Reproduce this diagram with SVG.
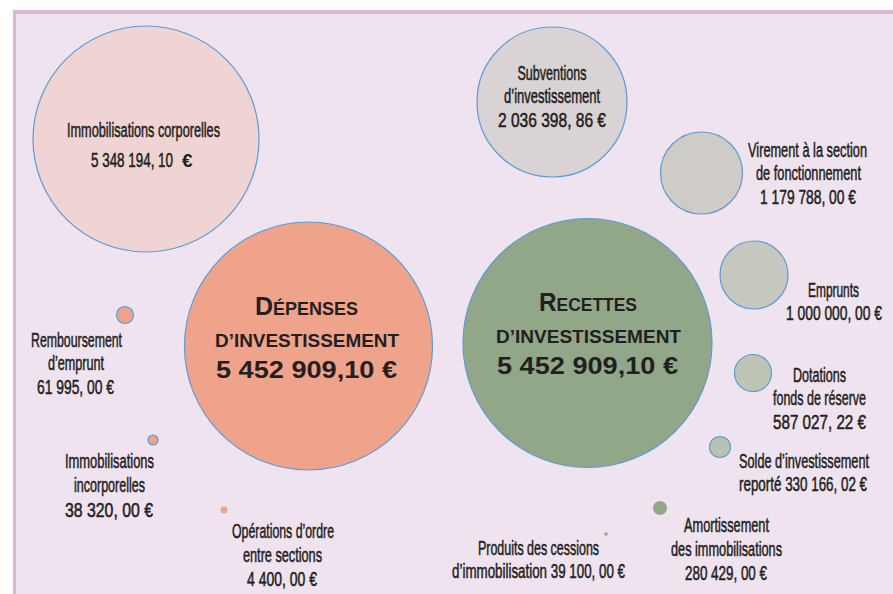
<svg xmlns="http://www.w3.org/2000/svg" width="893" height="594" viewBox="0 0 893 594">
<defs>
<style>
.bub{stroke:#5B9BD5;stroke-width:1.2}
.lab{font-family:"Liberation Sans Narrow","Liberation Sans",Arial,sans-serif;font-size:21px;fill:#231F20;stroke:#231F20;stroke-width:0.55;text-anchor:middle}
.big{font-family:"Liberation Sans",Arial,sans-serif;font-weight:bold;fill:#231F20;text-anchor:middle}
.eur{font-family:"Liberation Sans",Arial,sans-serif;font-weight:bold}
</style>
</defs>
<rect x="0" y="0" width="893" height="594" fill="#FFFFFF"/>
<rect x="13" y="10" width="880" height="584" fill="#EFE3F0"/>
<rect x="13" y="10" width="880" height="4" fill="#D8B7D7"/>
<rect x="13" y="10" width="3" height="584" fill="#D8B7D7"/>

<g id="connectors"></g>

<g id="immob-corporelles">
<circle class="bub" cx="146" cy="139" r="113" fill="#EFD4D3"/>
<text class="lab" transform="translate(143.5 137) scale(0.7 1)" textLength="218.6" lengthAdjust="spacingAndGlyphs">Immobilisations corporelles</text>
<text class="lab" transform="translate(132 167) scale(0.7 1)" textLength="117.1" lengthAdjust="spacingAndGlyphs">5 348 194, 10</text>
<text class="eur" x="182" y="167" font-size="19" fill="#231F20">€</text>
</g>

<g id="depenses">
<circle class="bub" cx="308.5" cy="346" r="124" fill="#F0A38B"/>
<text class="big" x="306.5" y="315" textLength="103" lengthAdjust="spacingAndGlyphs"><tspan font-size="25">D</tspan><tspan font-size="18">ÉPENSES</tspan></text>
<text class="big" x="307" y="347" font-size="18" textLength="184" lengthAdjust="spacingAndGlyphs">D’INVESTISSEMENT</text>
<text class="big" x="306.5" y="378" font-size="24" textLength="181" lengthAdjust="spacingAndGlyphs">5 452 909,10 €</text>
</g>

<g id="remboursement">
<circle class="bub" cx="125" cy="315" r="8.5" fill="#F0A38B"/>
<text class="lab" transform="translate(76.5 347) scale(0.7 1)" textLength="130" lengthAdjust="spacingAndGlyphs">Remboursement</text>
<text class="lab" transform="translate(76 370) scale(0.7 1)" textLength="80" lengthAdjust="spacingAndGlyphs">d’emprunt</text>
<text class="lab" transform="translate(75.5 394) scale(0.7 1)" textLength="110" lengthAdjust="spacingAndGlyphs">61 995, 00 €</text>
</g>

<g id="immob-incorporelles">
<circle class="bub" cx="153" cy="440" r="5" fill="#F0A38B"/>
<text class="lab" transform="translate(109.5 468) scale(0.7 1)" textLength="127.1" lengthAdjust="spacingAndGlyphs">Immobilisations</text>
<text class="lab" transform="translate(109.5 492) scale(0.7 1)" textLength="101.4" lengthAdjust="spacingAndGlyphs">incorporelles</text>
<text class="lab" transform="translate(109 517) scale(0.7 1)" textLength="125.7" lengthAdjust="spacingAndGlyphs">38 320, 00 €</text>
</g>

<g id="operations-ordre">
<circle cx="224" cy="510" r="3.5" fill="#F0A38B"/>
<text class="lab" transform="translate(283 538) scale(0.7 1)" textLength="145.7" lengthAdjust="spacingAndGlyphs">Opérations d’ordre</text>
<text class="lab" transform="translate(282.5 562) scale(0.7 1)" textLength="112.9" lengthAdjust="spacingAndGlyphs">entre sections</text>
<text class="lab" transform="translate(282 586) scale(0.7 1)" textLength="100" lengthAdjust="spacingAndGlyphs">4 400, 00 €</text>
</g>

<g id="subventions">
<circle class="bub" cx="552" cy="102" r="75" fill="#D9D3D6"/>
<text class="lab" transform="translate(552 80) scale(0.7 1)" textLength="98.6" lengthAdjust="spacingAndGlyphs">Subventions</text>
<text class="lab" transform="translate(552 103) scale(0.7 1)" textLength="137.1" lengthAdjust="spacingAndGlyphs">d’investissement</text>
<text class="lab" transform="translate(552 127) scale(0.7 1)" textLength="154.3" lengthAdjust="spacingAndGlyphs">2 036 398, 86 €</text>
</g>

<g id="virement">
<circle class="bub" cx="701.5" cy="173" r="41" fill="#CFCCC8"/>
<text class="lab" transform="translate(807.5 157) scale(0.7 1)" textLength="170" lengthAdjust="spacingAndGlyphs">Virement à la section</text>
<text class="lab" transform="translate(808.5 180) scale(0.7 1)" textLength="150" lengthAdjust="spacingAndGlyphs">de fonctionnement</text>
<text class="lab" transform="translate(808 204) scale(0.7 1)" textLength="137.1" lengthAdjust="spacingAndGlyphs">1 179 788, 00 €</text>
</g>

<g id="emprunts">
<circle class="bub" cx="754" cy="275" r="34" fill="#C6C7BF"/>
<text class="lab" transform="translate(833.5 297) scale(0.7 1)" textLength="72.9" lengthAdjust="spacingAndGlyphs">Emprunts</text>
<text class="lab" transform="translate(834 320) scale(0.7 1)" textLength="137.1" lengthAdjust="spacingAndGlyphs">1 000 000, 00 €</text>
</g>

<g id="recettes">
<circle class="bub" cx="587.5" cy="343" r="124.5" fill="#92A788"/>
<text class="big" x="588" y="311" textLength="98" lengthAdjust="spacingAndGlyphs"><tspan font-size="25">R</tspan><tspan font-size="18">ECETTES</tspan></text>
<text class="big" x="588.5" y="343" font-size="18" textLength="185" lengthAdjust="spacingAndGlyphs">D’INVESTISSEMENT</text>
<text class="big" x="587.5" y="374" font-size="24" textLength="181" lengthAdjust="spacingAndGlyphs">5 452 909,10 €</text>
</g>

<g id="dotations">
<circle class="bub" cx="753" cy="373" r="18.5" fill="#BDC3B5"/>
<text class="lab" transform="translate(819.5 382) scale(0.7 1)" textLength="75.7" lengthAdjust="spacingAndGlyphs">Dotations</text>
<text class="lab" transform="translate(819.5 405) scale(0.7 1)" textLength="132.9" lengthAdjust="spacingAndGlyphs">fonds de réserve</text>
<text class="lab" transform="translate(819.5 429) scale(0.7 1)" textLength="132.9" lengthAdjust="spacingAndGlyphs">587 027, 22 €</text>
</g>

<g id="solde">
<circle class="bub" cx="720" cy="447" r="10.5" fill="#B8C2B1"/>
<text class="lab" transform="translate(804 468) scale(0.7 1)" textLength="185.7" lengthAdjust="spacingAndGlyphs">Solde d’investissement</text>
<text class="lab" transform="translate(803 491) scale(0.7 1)" textLength="182.9" lengthAdjust="spacingAndGlyphs">reporté 330 166, 02 €</text>
</g>

<g id="amortissement">
<circle cx="660" cy="508" r="7" fill="#92A788"/>
<text class="lab" transform="translate(726.5 532) scale(0.7 1)" textLength="121.4" lengthAdjust="spacingAndGlyphs">Amortissement</text>
<text class="lab" transform="translate(726.5 556) scale(0.7 1)" textLength="158.6" lengthAdjust="spacingAndGlyphs">des immobilisations</text>
<text class="lab" transform="translate(726 580) scale(0.7 1)" textLength="117.1" lengthAdjust="spacingAndGlyphs">280 429, 00 €</text>
</g>

<g id="produits-cessions">
<circle cx="606" cy="534" r="1.8" fill="#92A788"/>
<text class="lab" transform="translate(538.5 555) scale(0.7 1)" textLength="172.9" lengthAdjust="spacingAndGlyphs">Produits des cessions</text>
<text class="lab" transform="translate(538.5 578) scale(0.7 1)" textLength="247.1" lengthAdjust="spacingAndGlyphs">d’immobilisation 39 100, 00 €</text>
</g>
</svg>
